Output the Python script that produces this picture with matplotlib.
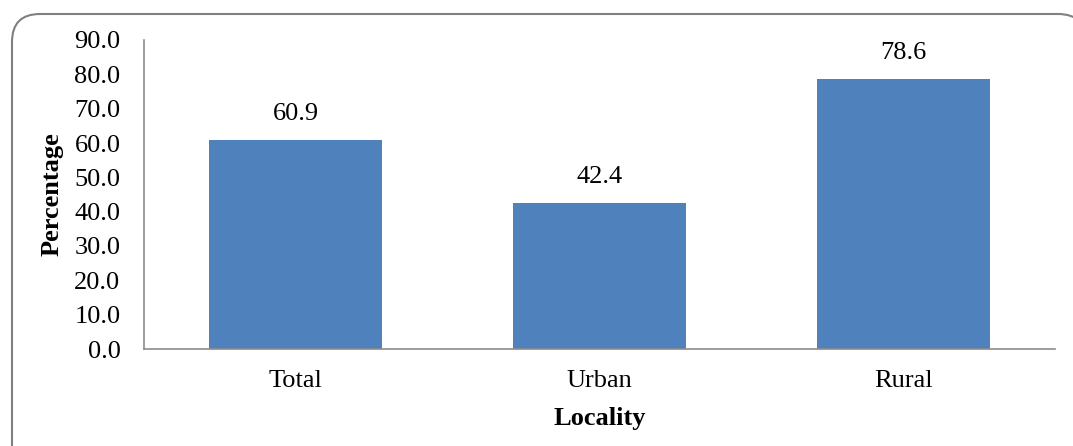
import matplotlib.pyplot as plt
from matplotlib.patches import FancyBboxPatch

plt.rcParams['font.family'] = ['Liberation Serif', 'DejaVu Serif']

localities = ['Total', 'Urban', 'Rural']
percentages = [60.9, 42.4, 78.6]
y_ticks = [0, 10, 20, 30, 40, 50, 60, 70, 80, 90]

W, H = 1073, 446
fig = plt.figure(figsize=(W / 100, H / 100), dpi=100)

# overlay in pixel units for the rounded chart-area frame
bg = fig.add_axes([0, 0, 1, 1])
bg.set_xlim(0, W)
bg.set_ylim(H, 0)
bg.axis('off')
bg.add_patch(FancyBboxPatch((12, 14), 1086 - 12, 520 - 14,
                            boxstyle='round,pad=0,rounding_size=28',
                            facecolor='none', edgecolor='#808080', linewidth=1.5))

ax = fig.add_axes([144 / W, 1 - 349 / H, (1055 - 144) / W, (349 - 40) / H])
ax.patch.set_alpha(0)

x = range(len(localities))
bars = ax.bar(x, percentages, width=0.57, color='#4F81BD')
for b, v in zip(bars, percentages):
    ax.text(b.get_x() + b.get_width() / 2, v + 4.4, f'{v:.1f}',
            ha='center', va='bottom', fontsize=19)

ax.set_xlim(-0.5, 2.5)
ax.set_ylim(0, 90)
ax.set_yticks(y_ticks)
ax.set_yticklabels([f'{t:.1f}' for t in y_ticks], fontsize=19)
ax.set_xticks(list(x))
ax.set_xticklabels(localities, fontsize=19)
ax.tick_params(axis='x', length=0, pad=15)
ax.tick_params(axis='y', length=0, pad=17)

for s in ['top', 'right']:
    ax.spines[s].set_visible(False)
for s in ['left', 'bottom']:
    ax.spines[s].set_color('#8c8c8c')
    ax.spines[s].set_linewidth(1.2)

ax.set_ylabel('Percentage', fontsize=19, fontweight='bold', labelpad=8)
ax.set_xlabel('Locality', fontsize=19, fontweight='bold', labelpad=11)

fig.savefig('out.png', dpi=100)
